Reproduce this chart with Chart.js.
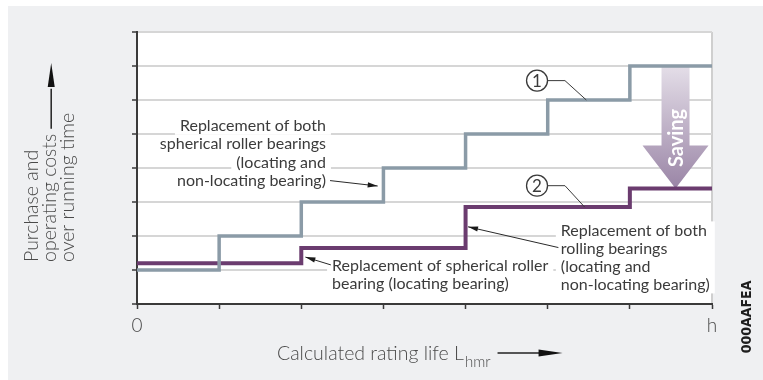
<!DOCTYPE html>
<html>
<head>
<meta charset="utf-8">
<script src="https://cdn.jsdelivr.net/npm/chart.js@4.4.0/dist/chart.umd.min.js"></script>
<style>
  html, body { margin: 0; padding: 0; background: #fff; }
  #wrap { width: 763px; height: 380px; }
</style>
</head>
<body>
<div id="wrap"><canvas id="costChart" width="763" height="380"></canvas></div>
<script>
// rating life axis: 0 … h in equal service intervals
const lifeSteps = [0, 1, 2, 3, 4, 5, 6, 7];
const lifeLabels = ['0', '', '', '', '', '', '', 'h'];

// cost axis gridlines
const costSteps = [0, 1, 2, 3, 4, 5, 6, 7, 8];

// curve 1: spherical roller bearings, both replaced every interval
const curve1Life = [0, 1, 2, 3, 4, 5, 6, 7];
const curve1Cost = [1, 2, 3, 4, 5, 6, 7, 7];

// curve 2: replacement only every second interval
const curve2Life = [0, 2, 4, 6, 7];
const curve2Cost = [1.2, 1.65, 2.85, 3.4, 3.4];

const notes1 = ['Replacement of both', 'spherical roller bearings', '(locating and', 'non-locating bearing)'];
const notes2 = ['Replacement of spherical roller', 'bearing (locating bearing)'];
const notes3 = ['Replacement of both', 'rolling bearings', '(locating and', 'non-locating bearing)'];

const FONT = "Lato, 'Open Sans', sans-serif";
const INK = '#3b3b3b';
const GREY_LINE = '#8b9ba7';
const PURPLE_LINE = '#6b3c6f';

// label blocks, placed in data units; "solid" blocks get one white backdrop
const textBlocks = [
  { lines: notes1, x: 2.30, y: 5.24, align: 'right', lh: 18.5, solid: false },
  { lines: notes2, x: 2.375, y: 1.13, align: 'left', lh: 18, solid: false },
  { lines: notes3, x: 5.16, y: 2.165, align: 'left', lh: 18, solid: true }
];
const pointers = [
  { from: [2.35, 3.63], to: [2.93, 3.47] },
  { from: [2.36, 1.15], to: [2.05, 1.38] },
  { from: [5.13, 1.66], to: [4.03, 2.27] }
];
const curveTags = [
  { text: '1', x: 4.87, y: 6.57, knee: 5.21, hit: [5.47, curve1Cost[5]] },
  { text: '2', x: 4.87, y: 3.48, knee: 5.21, hit: [5.45, curve2Cost[2]] }
];
const savingAt = 6.556;

function arrowHead(ctx, x0, y0, x1, y1, len, half) {
  const a = Math.atan2(y1 - y0, x1 - x0);
  ctx.beginPath();
  ctx.moveTo(x1, y1);
  ctx.lineTo(x1 - len * Math.cos(a) + half * Math.sin(a), y1 - len * Math.sin(a) - half * Math.cos(a));
  ctx.lineTo(x1 - len * Math.cos(a) - half * Math.sin(a), y1 - len * Math.sin(a) + half * Math.cos(a));
  ctx.closePath();
  ctx.fill();
}

const costDecor = {
  id: 'costDecor',
  beforeDraw(chart) {
    const { ctx, chartArea: a, width, height } = chart;
    ctx.save();
    ctx.fillStyle = '#ffffff';
    ctx.fillRect(0, 0, width, height);
    ctx.fillStyle = '#eff0f2';
    ctx.fillRect(8, 6, width - 8, height - 6);
    ctx.fillStyle = '#ffffff';
    ctx.fillRect(a.left, a.top, a.right - a.left, a.bottom - a.top);
    // right frame edge
    ctx.strokeStyle = '#cfcfcf';
    ctx.lineWidth = 2;
    ctx.beginPath();
    ctx.moveTo(a.right, a.top);
    ctx.lineTo(a.right, a.bottom);
    ctx.stroke();
    ctx.restore();
  },
  beforeDatasetsDraw(chart) {
    const { ctx, scales: { x, y } } = chart;
    ctx.save();
    ctx.font = '16px ' + FONT;
    ctx.textBaseline = 'middle';
    ctx.fillStyle = '#ffffff';
    textBlocks.forEach(b => {
      const bx = x.getPixelForValue(b.x);
      const by = y.getPixelForValue(b.y);
      const widths = b.lines.map(t => ctx.measureText(t).width);
      if (b.solid) {
        const w = Math.max(...widths);
        const left = b.align === 'right' ? bx - w : bx;
        ctx.fillRect(left - 5, by - 9, w + 10, (b.lines.length - 1) * b.lh + 18);
        return;
      }
      widths.forEach((w, i) => {
        const left = b.align === 'right' ? bx - w : bx;
        ctx.fillRect(left - 5, by + i * b.lh - 9, w + 10, 18);
      });
    });
    ctx.fillStyle = INK;
    textBlocks.forEach(b => {
      const bx = x.getPixelForValue(b.x);
      const by = y.getPixelForValue(b.y);
      ctx.textAlign = b.align;
      b.lines.forEach((t, i) => ctx.fillText(t, bx, by + i * b.lh));
    });

    // "Saving" arrow between the two curves at the end of the life
    const cx = x.getPixelForValue(savingAt);
    const top = y.getPixelForValue(curve1Cost[curve1Cost.length - 1]);
    const tip = y.getPixelForValue(curve2Cost[curve2Cost.length - 1]);
    const base = tip - 43;
    const g = ctx.createLinearGradient(0, top, 0, tip);
    g.addColorStop(0, '#e4dee8');
    g.addColorStop(1, '#9a85a6');
    ctx.fillStyle = g;
    ctx.beginPath();
    ctx.moveTo(cx - 14, top);
    ctx.lineTo(cx + 14, top);
    ctx.lineTo(cx + 14, base);
    ctx.lineTo(cx + 33, base);
    ctx.lineTo(cx, tip);
    ctx.lineTo(cx - 33, base);
    ctx.lineTo(cx - 14, base);
    ctx.closePath();
    ctx.fill();
    ctx.translate(cx + 1, top + 72);
    ctx.rotate(-Math.PI / 2);
    ctx.fillStyle = '#ffffff';
    ctx.font = 'bold 20px ' + FONT;
    ctx.textAlign = 'center';
    ctx.textBaseline = 'middle';
    ctx.fillText('Saving', 0, 0);
    ctx.restore();
  },
  afterDatasetsDraw(chart) {
    const { ctx, scales: { x, y } } = chart;
    ctx.save();
    ctx.strokeStyle = '#2a2a2a';
    ctx.fillStyle = '#1a1a1a';
    ctx.lineWidth = 1;
    pointers.forEach(p => {
      const x0 = x.getPixelForValue(p.from[0]), y0 = y.getPixelForValue(p.from[1]);
      const x1 = x.getPixelForValue(p.to[0]), y1 = y.getPixelForValue(p.to[1]);
      ctx.beginPath();
      ctx.moveTo(x0, y0);
      ctx.lineTo(x1, y1);
      ctx.stroke();
      arrowHead(ctx, x0, y0, x1, y1, 10, 2.6);
    });

    curveTags.forEach(c => {
      const cx = x.getPixelForValue(c.x), cy = y.getPixelForValue(c.y);
      const kx = x.getPixelForValue(c.knee);
      const hx = x.getPixelForValue(c.hit[0]), hy = y.getPixelForValue(c.hit[1]);
      ctx.strokeStyle = '#3a3a3a';
      ctx.lineWidth = 1;
      ctx.beginPath();
      ctx.moveTo(cx + 10, cy);
      ctx.lineTo(kx, cy);
      ctx.lineTo(hx, hy);
      ctx.stroke();
      ctx.beginPath();
      ctx.arc(cx, cy, 10.5, 0, Math.PI * 2);
      ctx.fillStyle = '#ffffff';
      ctx.fill();
      ctx.lineWidth = 1.3;
      ctx.stroke();
      ctx.fillStyle = INK;
      ctx.font = '17px ' + FONT;
      ctx.textAlign = 'center';
      ctx.textBaseline = 'middle';
      ctx.fillText(c.text, cx, cy + 1);
    });
    ctx.restore();
  },
  afterDraw(chart) {
    const { ctx } = chart;
    ctx.save();
    ctx.fillStyle = '#4a4a4a';
    ctx.strokeStyle = '#222';

    // vertical axis title with upward arrow
    ctx.translate(31.7, 262);
    ctx.rotate(-Math.PI / 2);
    ctx.font = '300 19.5px ' + FONT;
    ctx.textAlign = 'left';
    ctx.textBaseline = 'middle';
    const ytitle = ['Purchase and', 'operating costs', 'over running time'];
    ytitle.forEach((t, i) => ctx.fillText(t, 0, i * 18.2));
    const w2 = ctx.measureText(ytitle[1]).width;
    ctx.lineWidth = 1.5;
    ctx.beginPath();
    ctx.moveTo(w2 + 5, 19.5);
    ctx.lineTo(w2 + 45, 19.5);
    ctx.stroke();
    ctx.fillStyle = '#111';
    arrowHead(ctx, w2 + 5, 19.5, 262 - 63, 19.5, 24, 3.5);
    ctx.setTransform(1, 0, 0, 1, 0, 0);

    // horizontal axis title with subscript and arrow
    ctx.fillStyle = '#4a4a4a';
    ctx.textAlign = 'left';
    ctx.textBaseline = 'alphabetic';
    ctx.font = '300 19.5px ' + FONT;
    const main = 'Calculated rating life L';
    ctx.fillText(main, 277, 360);
    const mw = ctx.measureText(main).width;
    ctx.font = '300 15px ' + FONT;
    ctx.fillText('hmr', 277 + mw + 1, 367);
    const sw = ctx.measureText('hmr').width;
    const ax = 277 + mw + 1 + sw + 7;
    ctx.lineWidth = 1.5;
    ctx.beginPath();
    ctx.moveTo(ax, 353);
    ctx.lineTo(ax + 45, 353);
    ctx.stroke();
    ctx.fillStyle = '#111';
    arrowHead(ctx, ax, 353, ax + 65, 353, 24, 3.5);

    // drawing code at the right margin
    ctx.translate(747, 317);
    ctx.rotate(-Math.PI / 2);
    ctx.font = "bold 14px 'Liberation Sans Narrow', 'DejaVu Sans Condensed', sans-serif";
    ctx.fillStyle = '#1e1e1e';
    ctx.textAlign = 'center';
    ctx.textBaseline = 'middle';
    ctx.fillText('000AAFEA', 0, 0);
    ctx.restore();
  }
};

new Chart(document.getElementById('costChart'), {
  type: 'line',
  data: {
    datasets: [
      {
        label: '1',
        data: curve1Life.map((v, i) => ({ x: v, y: curve1Cost[i] })),
        stepped: true,
        borderColor: GREY_LINE,
        borderWidth: 3.5,
        borderJoinStyle: 'miter',
        borderCapStyle: 'butt',
        pointRadius: 0,
        fill: false
      },
      {
        label: '2',
        data: curve2Life.map((v, i) => ({ x: v, y: curve2Cost[i] })),
        stepped: true,
        borderColor: PURPLE_LINE,
        borderWidth: 4,
        borderJoinStyle: 'miter',
        borderCapStyle: 'butt',
        pointRadius: 0,
        fill: false
      }
    ]
  },
  options: {
    responsive: false,
    animation: false,
    devicePixelRatio: 1,
    layout: { padding: { left: 127, right: 51, top: 32, bottom: 36 } },
    plugins: { legend: { display: false }, tooltip: { enabled: false } },
    scales: {
      x: {
        type: 'linear',
        min: lifeSteps[0],
        max: lifeSteps[lifeSteps.length - 1],
        afterBuildTicks: s => { s.ticks = lifeSteps.map(v => ({ value: v })); },
        afterFit: s => { s.height = 40; },
        ticks: {
          autoSkip: false,
          maxRotation: 0,
          padding: 5,
          color: '#4a4a4a',
          font: { family: FONT, size: 19, weight: '300' },
          callback: (v, i) => lifeLabels[i]
        },
        grid: { drawOnChartArea: false, tickLength: 5, tickWidth: 1.5, tickColor: '#3a3a3a' },
        border: { color: '#3a3a3a', width: 2 }
      },
      y: {
        min: costSteps[0],
        max: costSteps[costSteps.length - 1],
        afterBuildTicks: s => { s.ticks = costSteps.map(v => ({ value: v })); },
        afterFit: s => { s.width = 10; },
        ticks: { display: false },
        grid: {
          color: c => (c.tick && c.tick.value === 0 ? 'rgba(0,0,0,0)' : '#d6d6d6'),
          lineWidth: 2,
          tickLength: 5,
          tickWidth: 1.5,
          tickColor: '#3a3a3a'
        },
        border: { color: '#3a3a3a', width: 2 }
      }
    }
  },
  plugins: [costDecor]
});
</script>
</body>
</html>
